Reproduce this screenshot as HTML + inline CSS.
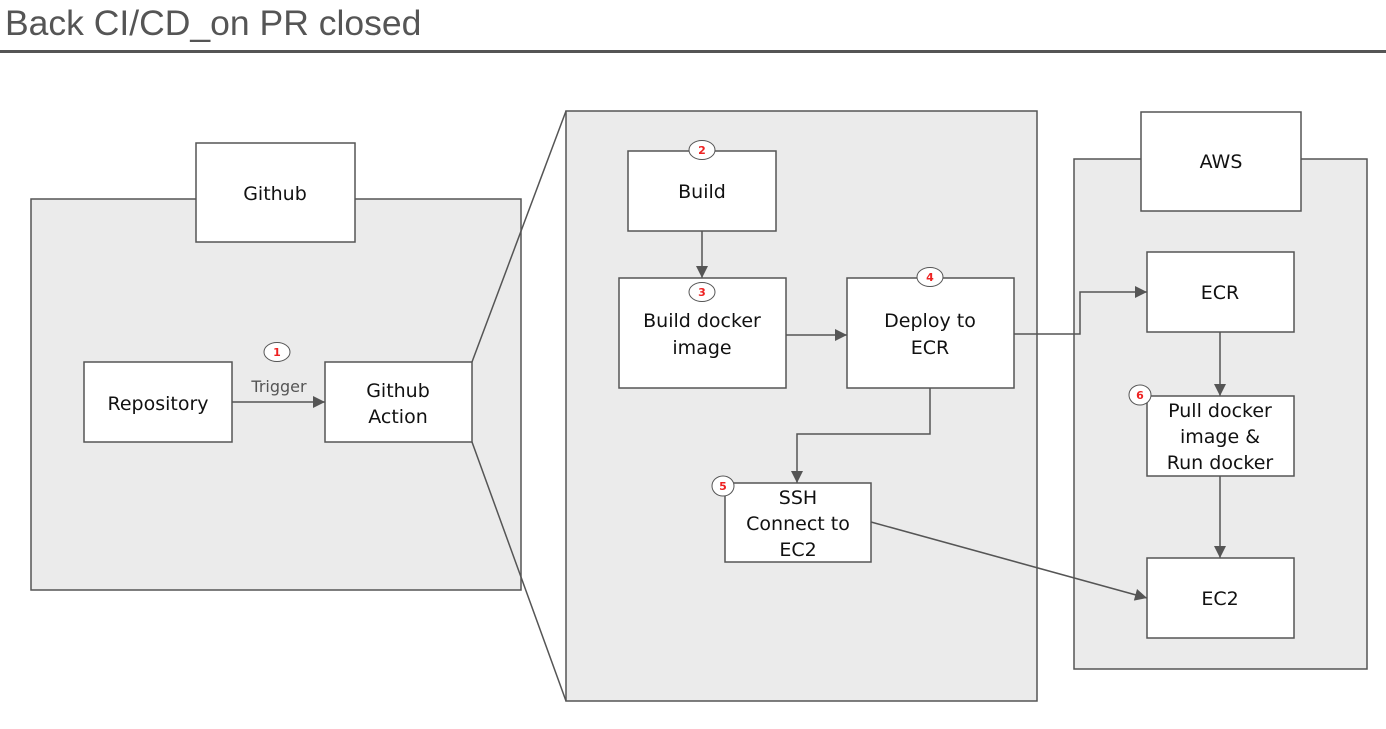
<!DOCTYPE html>
<html><head><meta charset="utf-8"><style>
html,body{margin:0;padding:0;background:#fff;width:1386px;height:729px;overflow:hidden}
svg text{font-family:"DejaVu Sans","Liberation Sans",sans-serif}
</style></head><body>
<svg width="1386" height="729" viewBox="0 0 1386 729" xmlns="http://www.w3.org/2000/svg">
<defs><marker id="a" viewBox="0 0 10 10" refX="10" refY="5" markerWidth="14" markerHeight="12" markerUnits="userSpaceOnUse" orient="auto"><path d="M0,0 L10,5 L0,10 z" fill="#555"/></marker></defs>
<text x="5" y="35" font-size="35.5" fill="#555" style="font-family:'Liberation Sans',sans-serif">Back CI/CD_on PR closed</text>
<rect x="0" y="50" width="1386" height="3" fill="#555"/>
<g stroke="#555" stroke-width="1.5">
<rect x="31" y="199" width="490" height="391" fill="#ebebeb"/>
<rect x="196" y="143" width="159" height="99" fill="#fff"/>
<rect x="84" y="362" width="148" height="80" fill="#fff"/>
<rect x="325" y="362" width="147" height="80" fill="#fff"/>
<line x1="472" y1="362" x2="566" y2="111"/>
<line x1="472" y1="442" x2="566" y2="701"/>
<rect x="566" y="111" width="471" height="590" fill="#ebebeb"/>
<rect x="628" y="151" width="148" height="80" fill="#fff"/>
<rect x="619" y="278" width="167" height="110" fill="#fff"/>
<rect x="847" y="278" width="167" height="110" fill="#fff"/>
<rect x="725" y="483" width="146" height="79" fill="#fff"/>
<rect x="1074" y="159" width="293" height="510" fill="#ebebeb"/>
<rect x="1141" y="112" width="160" height="99" fill="#fff"/>
<rect x="1147" y="252" width="147" height="80" fill="#fff"/>
<rect x="1147" y="396" width="147" height="80" fill="#fff"/>
<rect x="1147" y="558" width="147" height="80" fill="#fff"/>
<g fill="none" marker-end="url(#a)">
<line x1="232" y1="402" x2="325" y2="402"/>
<line x1="702" y1="231" x2="702" y2="278"/>
<line x1="786" y1="335" x2="847" y2="335"/>
<polyline points="930,388 930,434 797,434 797,483"/>
<polyline points="1014,334 1080,334 1080,292 1147,292"/>
<line x1="1220" y1="332" x2="1220" y2="396"/>
<line x1="1220" y1="476" x2="1220" y2="558"/>
<line x1="871" y1="522" x2="1147" y2="598"/>
</g>
<g fill="#fff" stroke-width="1">
<ellipse cx="277" cy="352" rx="13" ry="9.5"/>
<ellipse cx="702" cy="150" rx="13" ry="9.5"/>
<ellipse cx="702" cy="292" rx="13" ry="9.5"/>
<ellipse cx="930" cy="277" rx="13" ry="9.5"/>
<ellipse cx="723" cy="486" rx="11" ry="10"/>
<ellipse cx="1140" cy="395" rx="11" ry="10"/>
</g>
</g>
<g fill="#e22" font-size="11" font-weight="bold" text-anchor="middle">
<text x="277" y="356">1</text><text x="702" y="154">2</text><text x="702" y="296">3</text>
<text x="930" y="281">4</text><text x="723" y="490">5</text><text x="1140" y="399">6</text>
</g>
<g fill="#111" font-size="19" text-anchor="middle">
<text x="275" y="200">Github</text>
<text x="158" y="410">Repository</text>
<text x="398" y="397">Github</text><text x="398" y="423">Action</text>
<text x="279" y="392" font-size="16" fill="#555">Trigger</text>
<text x="702" y="198">Build</text>
<text x="702" y="327">Build docker</text><text x="702" y="354">image</text>
<text x="930" y="327">Deploy to</text><text x="930" y="354">ECR</text>
<text x="798" y="504">SSH</text><text x="798" y="530">Connect to</text><text x="798" y="556">EC2</text>
<text x="1221" y="168">AWS</text>
<text x="1220" y="299">ECR</text>
<text x="1220" y="417">Pull docker</text><text x="1220" y="443">image &amp;</text><text x="1220" y="469">Run docker</text>
<text x="1220" y="605">EC2</text>
</g>
</svg>
</body></html>
